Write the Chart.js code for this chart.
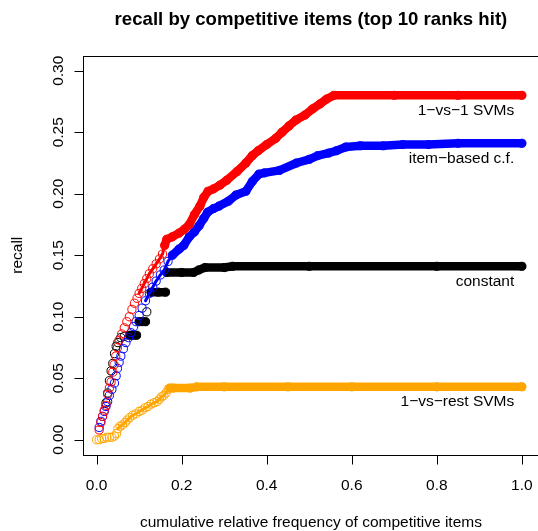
<!DOCTYPE html>
<html>
<head>
<meta charset="utf-8">
<script src="https://cdn.jsdelivr.net/npm/chart.js@4.4.1/dist/chart.umd.min.js"></script>
<style>
  html, body { margin: 0; padding: 0; background: #fff; overflow: hidden; }
  #wrap { width: 544px; height: 531px; position: relative; }
</style>
</head>
<body>
<div id="wrap"><canvas id="recallChart"></canvas></div>
<script>
// recall vs cumulative relative frequency of competitive items
const seriesNames = ["1\u2212vs\u22121 SVMs", "item\u2212based c.f.", "constant", "1\u2212vs\u2212rest SVMs"];
const seriesColors = ["#ff0000", "#0000ff", "#000000", "#ffa500"];

const svmOneX = [0.006, 0.010, 0.014, 0.018, 0.022, 0.026, 0.030, 0.034, 0.038, 0.041, 0.045, 0.049, 0.053, 0.059, 0.065,
    0.071, 0.077, 0.083, 0.089, 0.095, 0.100, 0.106, 0.112, 0.118, 0.124, 0.132, 0.140, 0.148, 0.155,
    0.160, 0.165, 0.178, 0.194, 0.206, 0.218, 0.230, 0.243, 0.252, 0.262, 0.275, 0.290, 0.306, 0.330,
    0.351, 0.366, 0.380, 0.400, 0.421, 0.436, 0.452, 0.469, 0.490, 0.508, 0.525, 0.541, 0.558, 0.700, 0.850, 1.000];
const svmOneY = [0.008, 0.014, 0.019, 0.024, 0.028, 0.037, 0.042, 0.047, 0.055, 0.061, 0.068, 0.075, 0.081, 0.086, 0.091,
    0.096, 0.100, 0.106, 0.111, 0.115, 0.119, 0.123, 0.127, 0.131, 0.135, 0.139, 0.143, 0.147, 0.151,
    0.158, 0.163, 0.165, 0.168, 0.171, 0.175, 0.183, 0.190, 0.197, 0.202, 0.204, 0.207, 0.211, 0.218,
    0.225, 0.231, 0.235, 0.240, 0.245, 0.250, 0.255, 0.260, 0.264, 0.269, 0.273, 0.277, 0.280, 0.280, 0.280, 0.280];

const itemCfX = [0.006, 0.010, 0.014, 0.018, 0.022, 0.026, 0.030, 0.036, 0.042, 0.046, 0.049, 0.053, 0.057, 0.063, 0.069,
    0.075, 0.081, 0.087, 0.093, 0.100, 0.107, 0.115, 0.124, 0.132, 0.140, 0.150, 0.159, 0.168,
    0.178, 0.194, 0.205, 0.218, 0.230, 0.241, 0.252, 0.261, 0.275, 0.288, 0.310, 0.328, 0.351, 0.366,
    0.382, 0.395, 0.430, 0.470, 0.500, 0.520, 0.545, 0.564, 0.586, 0.620, 0.674, 0.720, 0.780, 0.850, 1.000];
const itemCfY = [0.010, 0.015, 0.019, 0.023, 0.027, 0.031, 0.036, 0.041, 0.046, 0.052, 0.058, 0.063, 0.068, 0.074, 0.079,
    0.083, 0.087, 0.092, 0.096, 0.101, 0.107, 0.113, 0.119, 0.124, 0.129, 0.134, 0.138, 0.145,
    0.150, 0.155, 0.158, 0.165, 0.169, 0.174, 0.180, 0.185, 0.188, 0.190, 0.194, 0.199, 0.202, 0.210,
    0.216, 0.217, 0.219, 0.225, 0.228, 0.231, 0.233, 0.235, 0.238, 0.239, 0.239, 0.240, 0.240, 0.241, 0.241];

const constantX = [0.022, 0.026, 0.030, 0.034, 0.038, 0.042, 0.046, 0.050, 0.057, 0.065,
    0.078, 0.086, 0.094, 0.100, 0.108, 0.115, 0.118, 0.128, 0.145, 0.162,
    0.165, 0.200, 0.228, 0.240, 0.255, 0.300, 0.320, 0.500, 0.800, 1.000];
const constantY = [0.030, 0.038, 0.048, 0.056, 0.062, 0.070, 0.076, 0.079, 0.083, 0.084,
    0.085, 0.085, 0.085, 0.096, 0.096, 0.096, 0.104, 0.120, 0.120, 0.120,
    0.136, 0.136, 0.136, 0.138, 0.140, 0.140, 0.141, 0.141, 0.141, 0.141];

const svmRestX = [0.000, 0.006, 0.012, 0.018, 0.024, 0.030, 0.036, 0.042, 0.047, 0.050, 0.055, 0.061, 0.067, 0.072,
    0.078, 0.085, 0.092, 0.100, 0.107, 0.114, 0.121, 0.128, 0.135, 0.142, 0.148, 0.153, 0.158, 0.163, 0.168,
    0.172, 0.180, 0.220, 0.235, 0.300, 0.450, 0.600, 0.800, 1.000];
const svmRestY = [0.000, 0.000, 0.001, 0.001, 0.002, 0.002, 0.002, 0.003, 0.005, 0.009, 0.011, 0.012, 0.014, 0.016,
    0.018, 0.020, 0.021, 0.023, 0.024, 0.026, 0.027, 0.029, 0.030, 0.031, 0.033, 0.035, 0.036, 0.038, 0.041,
    0.042, 0.042, 0.042, 0.043, 0.043, 0.043, 0.043, 0.043, 0.043];

const xTicks = [0.0, 0.2, 0.4, 0.6, 0.8, 1.0];
const yTicks = [0.00, 0.05, 0.10, 0.15, 0.20, 0.25, 0.30];

const chartTitle = "recall by competitive items (top 10 ranks hit)";
const xTitle = "cumulative relative frequency of competitive items";
const yTitle = "recall";

// where the circles crowd together (semi) and where they read as a solid band (dense)
const semiFrom = [0.100, 0.110, 9, 0.050];
const denseFrom = [0.156, 0.170, 0.165, 0.170];
const flatChunks = [false, false, true, false];

const FONT = '"Liberation Sans", Arial, Helvetica, sans-serif';

function pairs(xs, ys) {
    return xs.map((x, i) => ({ x: x, y: ys[i] }));
}

const seriesData = [
    pairs(svmOneX, svmOneY),
    pairs(itemCfX, itemCfY),
    pairs(constantX, constantY),
    pairs(svmRestX, svmRestY),
];

function isDense(ctx, i) {
    return ctx.p0.parsed.x >= denseFrom[i] ||
        (flatChunks[i] && ctx.p0.parsed.y === ctx.p1.parsed.y);
}

const datasets = seriesData.map((pts, i) => ({
    label: seriesNames[i],
    data: pts,
    showLine: true,
    borderColor: seriesColors[i],
    borderWidth: 8.5,
    borderCapStyle: "round",
    borderJoinStyle: "round",
    pointStyle: "circle",
    pointRadius: 4.1,
    pointBorderWidth: 1,
    pointBorderColor: seriesColors[i],
    pointBackgroundColor: "rgba(0,0,0,0)",
    segment: {
        borderColor: ctx => {
            if (isDense(ctx, i) || ctx.p0.parsed.x >= semiFrom[i]) return seriesColors[i];
            return "rgba(0,0,0,0)";
        },
        borderWidth: ctx => (isDense(ctx, i) ? 8.5 : 3),
    },
}));

// box, ticks and all the text, R style
const rAxes = {
    id: "rAxes",
    afterDraw(chart) {
        const ctx = chart.ctx;
        const a = chart.chartArea;
        const xs = chart.scales.x;
        const ys = chart.scales.y;
        const L = Math.round(a.left) + 0.5;
        const B = Math.round(a.bottom) + 0.5;
        const T = Math.round(a.top) + 0.5;
        const R = Math.round(a.right) + 0.5;

        ctx.save();
        ctx.strokeStyle = "#000";
        ctx.lineWidth = 1;
        ctx.strokeRect(L, T, R - L, B - T);

        ctx.beginPath();
        xTicks.forEach(v => {
            const px = Math.round(xs.getPixelForValue(v)) + 0.5;
            ctx.moveTo(px, B);
            ctx.lineTo(px, B + 9);
        });
        yTicks.forEach(v => {
            const py = Math.round(ys.getPixelForValue(v)) + 0.5;
            ctx.moveTo(L, py);
            ctx.lineTo(L - 9, py);
        });
        ctx.stroke();

        ctx.fillStyle = "#000";
        ctx.font = "15.5px " + FONT;
        ctx.textAlign = "center";
        ctx.textBaseline = "alphabetic";
        xTicks.forEach(v => {
            ctx.fillText(v.toFixed(1), xs.getPixelForValue(v), 490);
        });
        yTicks.forEach(v => {
            ctx.save();
            ctx.translate(62.5, ys.getPixelForValue(v));
            ctx.rotate(-Math.PI / 2);
            ctx.fillText(v.toFixed(2), 0, 0);
            ctx.restore();
        });

        const cx = (a.left + a.right) / 2;
        ctx.fillText(xTitle, cx, 527);
        ctx.save();
        ctx.translate(22, (a.top + a.bottom) / 2);
        ctx.rotate(-Math.PI / 2);
        ctx.fillText(yTitle, 0, 0);
        ctx.restore();

        // series names under the right end of each curve
        ctx.textAlign = "right";
        ctx.textBaseline = "middle";
        seriesData.forEach((pts, i) => {
            const last = pts[pts.length - 1];
            ctx.fillText(seriesNames[i], xs.getPixelForValue(0.982), ys.getPixelForValue(last.y) + 15);
        });

        ctx.font = "bold 18.6px " + FONT;
        ctx.textAlign = "center";
        ctx.textBaseline = "alphabetic";
        ctx.fillText(chartTitle, cx, 24.5);
        ctx.restore();
    },
};

document.addEventListener("DOMContentLoaded", function () {
    const ctxRecall = document.getElementById("recallChart").getContext("2d");

    const recallChart = new Chart(ctxRecall, {
        type: "scatter",
        data: { datasets: datasets },
        options: {
            responsive: true,
            maintainAspectRatio: false,
            animation: false,
            events: [],
            layout: { padding: { left: 83, right: 4.4, top: 56, bottom: 76.5 } },
            scales: {
                x: { type: "linear", min: -0.032, max: 1.04, display: false },
                y: { type: "linear", min: -0.012, max: 0.312, display: false },
            },
            plugins: {
                legend: { display: false },
                tooltip: { enabled: false },
                title: { display: false },
            },
        },
        plugins: [rAxes],
    });
});
</script>
</body>
</html>
